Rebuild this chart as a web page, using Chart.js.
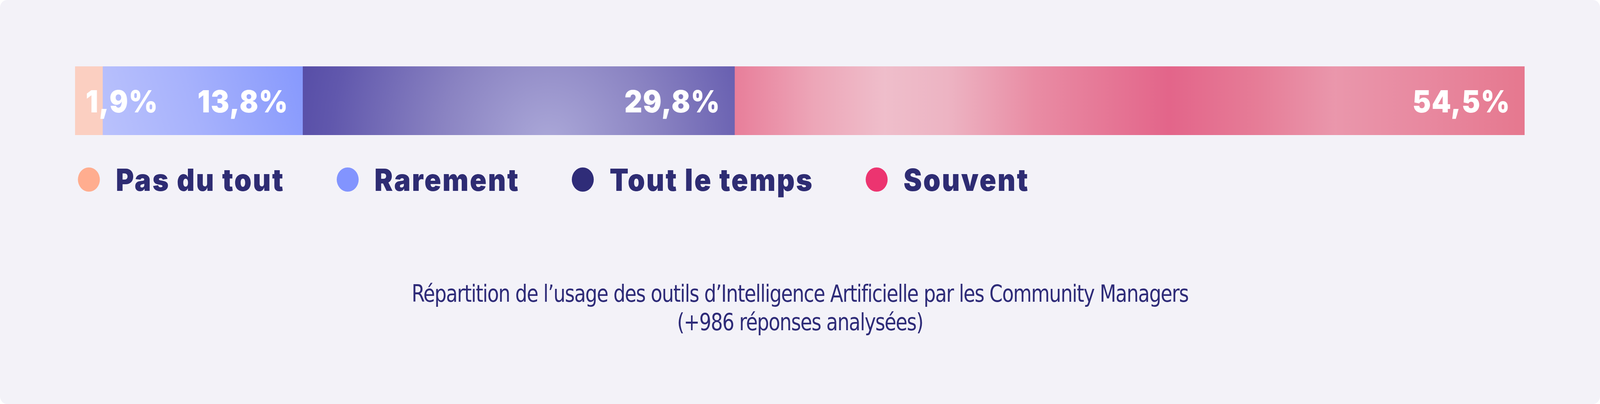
<!DOCTYPE html>
<html lang="fr">
<head>
<meta charset="utf-8">
<title>Usage des outils d'IA par les Community Managers</title>
<script src="https://cdn.jsdelivr.net/npm/chart.js@4.4.1/dist/chart.umd.min.js"></script>
<style>
  html, body { margin: 0; padding: 0; background: #ffffff; overflow: hidden; }
  #card {
    position: relative;
    width: 4519px;
    height: 1035px;
    background: #f3f2f8;
    border-radius: 20px;
    overflow: hidden;
    transform-origin: 0 0;
  }
  #bar-wrap {
    position: absolute;
    left: 0;
    top: 0;
    width: 4519px;
    height: 400px;
  }
  #legend {
    position: absolute;
    left: 220px;
    top: 429px;
    height: 62px;
    display: flex;
    align-items: center;
    font-family: Inter, "Noto Sans", sans-serif;
    font-weight: 900;
    font-size: 78px;
    color: #2e2c73;
    letter-spacing: 3.8px;
    white-space: nowrap;
  }
  .legend-item { display: flex; align-items: center; margin-right: 147px; }
  .legend-dot { width: 62px; height: 62px; border-radius: 50%; margin-right: 45px; flex: none; }
  #caption {
    position: absolute;
    left: 0;
    width: 4519px;
    top: 716px;
    text-align: center;
    font-family: "Liberation Sans Narrow", "DejaVu Sans Condensed", Roboto, sans-serif;
    font-size: 60px;
    letter-spacing: -1.8px;
    line-height: 73px;
    color: #2e2b78;
  }
</style>
</head>
<body>
<div id="card">
  <div id="bar-wrap"><canvas id="usage-chart"></canvas></div>
  <div id="legend"></div>
  <div id="caption"></div>
</div>

<script>
// Répartition de l'usage des outils d'IA (en %)
const categories = ['Pas du tout', 'Rarement', 'Tout le temps', 'Souvent'];
const values = [1.9, 13.8, 29.8, 54.5];
const legendColors = ['#ffad8f', '#8294fe', '#2f2c78', '#ec3470'];
const captionLines = [
  'Répartition de l’usage des outils d’Intelligence Artificielle par les Community Managers',
  '(+986 réponses analysées)'
];

// The card is designed at 4519x1035; fit it to whatever viewport we get
const card = document.getElementById('card');
card.style.transform = 'scale(' + (window.innerWidth / 4519) + ',' + (window.innerHeight / 1035) + ')';

// where each segment starts on the 0-100 axis
const starts = values.map((v, i) => values.slice(0, i).reduce((a, b) => a + b, 0));

function formatPercent(v) {
  return v.toFixed(1).replace('.', ',') + '%';
}

// Segment fills: soft gradients like the original design
function segmentFill(context) {
  const chart = context.chart;
  const area = chart.chartArea;
  const i = context.datasetIndex;
  const flat = ['#fbcfc1', '#a3b0fc', '#6a62b2', '#e98aa2'][i];
  if (!area) return flat;

  const c = chart.ctx;
  const x = chart.scales.x;
  const x0 = x.getPixelForValue(starts[i]);
  const x1 = x.getPixelForValue(starts[i] + values[i]);
  const top = area.top, bottom = area.bottom;

  if (i === 0) return '#fbcfc1';

  if (i === 1) {
    const g = c.createLinearGradient(x0, bottom, x1, top);
    g.addColorStop(0, '#bac2fc');
    g.addColorStop(0.45, '#a7b2fc');
    g.addColorStop(1, '#8799fd');
    return g;
  }

  if (i === 2) {
    const cx = x0 + (x1 - x0) * 0.57;
    const g = c.createRadialGradient(cx, bottom + 30, 0, cx, bottom + 30, (x1 - x0) * 0.72);
    g.addColorStop(0, '#aca9d9');
    g.addColorStop(0.35, '#8a83c2');
    g.addColorStop(0.7, '#6158ad');
    g.addColorStop(1, '#4a409f');
    return g;
  }

  const g = c.createLinearGradient(x0, 0, x1, 0);
  g.addColorStop(0, '#e87e9a');
  g.addColorStop(0.1, '#eda6b8');
  g.addColorStop(0.19, '#efbecb');
  g.addColorStop(0.27, '#edb4c3');
  g.addColorStop(0.38, '#e98ca4');
  g.addColorStop(0.55, '#e3658a');
  g.addColorStop(0.66, '#e67c97');
  g.addColorStop(0.76, '#ea97ac');
  g.addColorStop(0.88, '#e8889f');
  g.addColorStop(1, '#e6788f');
  return g;
}

// White percentage labels inside the segments
const segmentLabels = {
  id: 'segmentLabels',
  afterDatasetsDraw(chart) {
    const c = chart.ctx;
    c.save();
    c.font = '900 78px Inter, "Noto Sans", sans-serif';
    c.letterSpacing = '2px';
    c.fillStyle = '#ffffff';
    c.textBaseline = 'alphabetic';
    chart.data.datasets.forEach((ds, i) => {
      const bar = chart.getDatasetMeta(i).data[0];
      if (!bar) return;
      const text = formatPercent(ds.data[0]);
      const left = Math.min(bar.base, bar.x);
      const right = Math.max(bar.base, bar.x);
      const w = c.measureText(text).width;
      const y = bar.y + 30;
      if (w + 76 > right - left) {
        c.textAlign = 'left';
        c.fillText(text, left + 30, y);
      } else {
        c.textAlign = 'right';
        c.fillText(text, right - 40, y);
      }
    });
    c.restore();
  }
};

const datasets = categories.map((label, i) => ({
  label: label,
  data: [values[i]],
  backgroundColor: segmentFill,
  borderWidth: 0,
  barPercentage: 1,
  categoryPercentage: 1
}));

new Chart(document.getElementById('usage-chart'), {
  type: 'bar',
  data: { labels: ['Usage'], datasets: datasets },
  options: {
    indexAxis: 'y',
    responsive: true,
    maintainAspectRatio: false,
    animation: false,
    layout: { padding: { left: 212, right: 213, top: 170, bottom: 54 } },
    plugins: {
      legend: { display: false },
      tooltip: { enabled: false }
    },
    scales: {
      x: { stacked: true, min: 0, max: 100, display: false },
      y: { stacked: true, display: false }
    }
  },
  plugins: [segmentLabels]
});

// HTML legend built from the same arrays
const legendEl = document.getElementById('legend');
legendEl.innerHTML = categories.map((label, i) => `
  <div class="legend-item">
    <span class="legend-dot" style="background:${legendColors[i]}"></span>
    <span>${label}</span>
  </div>
`).join('');

document.getElementById('caption').innerHTML = captionLines.join('<br>');
</script>
</body>
</html>
